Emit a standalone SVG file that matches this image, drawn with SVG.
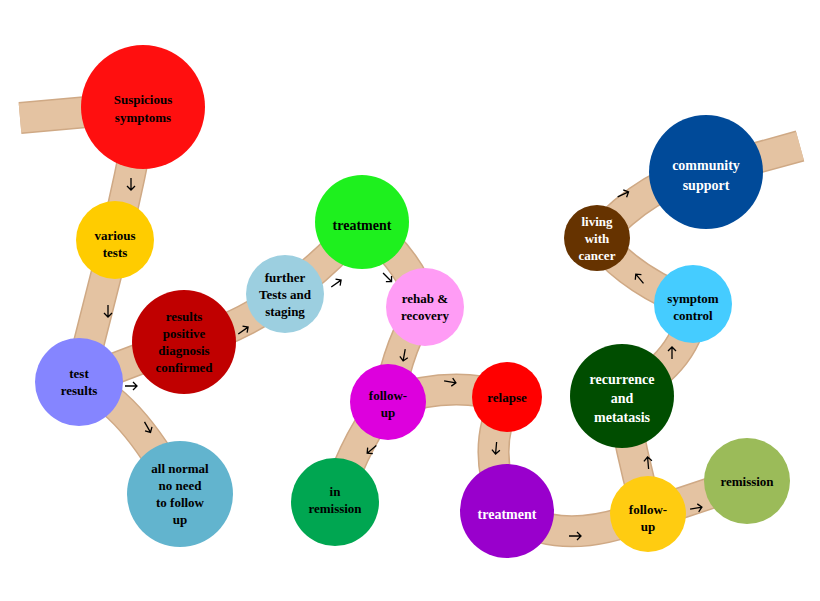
<svg xmlns="http://www.w3.org/2000/svg" width="820" height="601" viewBox="0 0 820 601">
<style>
.ro{fill:none;stroke:#cfa985;stroke-width:32;stroke-linejoin:round}
.ri{fill:none;stroke:#e4c3a2;stroke-width:29;stroke-linejoin:round}
.ar{fill:none;stroke:#000;stroke-width:1.3}
text{font-family:"Liberation Serif",serif;font-weight:bold;font-size:13px;text-anchor:middle}
.w{fill:#fff;font-size:14px}
</style>
<defs>
<path id="road" d="M20,118 L143,107 Q130,180 115,240 Q95,320 79,382 Q130,400 180,494 M79,382 L184,342 Q240,330 285,294 Q330,260 362,222 Q410,260 424,306 Q400,340 388,402 Q360,430 335,502 M388,402 Q450,380 507,397 Q480,450 507,511 Q560,550 648,514 L747,481 M648,514 Q630,450 622,396 Q690,360 693,304 Q630,280 597,238 Q650,180 706,172 L800,146"/>
<path id="a" d="M-7,0 L5,0 M1,-4 L5,0 L1,4"/>
</defs>
<g id="connectors">
<use href="#road" class="ro"/>
<use href="#road" class="ri"/>
<g class="ar">
<use href="#a" transform="translate(131,185) rotate(90)"/>
<use href="#a" transform="translate(108,312) rotate(90)"/>
<use href="#a" transform="translate(132,386)"/>
<use href="#a" transform="translate(148,428) rotate(60)"/>
<use href="#a" transform="translate(244,330) rotate(-35)"/>
<use href="#a" transform="translate(337,283) rotate(-35)"/>
<use href="#a" transform="translate(388,278) rotate(45)"/>
<use href="#a" transform="translate(404,356) rotate(100)"/>
<use href="#a" transform="translate(451,382) rotate(10)"/>
<use href="#a" transform="translate(371,450) rotate(140)"/>
<use href="#a" transform="translate(496,449) rotate(95)"/>
<use href="#a" transform="translate(576,536)"/>
<use href="#a" transform="translate(697,508) rotate(-10)"/>
<use href="#a" transform="translate(648,462) rotate(-95)"/>
<use href="#a" transform="translate(672,352) rotate(-90)"/>
<use href="#a" transform="translate(639,278) rotate(-130)"/>
<use href="#a" transform="translate(624,194) rotate(-25)"/>
</g>
</g>
<g id="n1"><circle cx="143" cy="107" r="62" fill="#ff0f0f"/><text x="143" y="104">Suspicious</text><text x="143" y="122">symptoms</text></g>
<g id="n2"><circle cx="115" cy="240" r="39" fill="#ffcc00"/><text x="115" y="240">various</text><text x="115" y="257">tests</text></g>
<g id="n3"><circle cx="79" cy="382" r="44" fill="#8585ff"/><text x="79" y="378">test</text><text x="79" y="395">results</text></g>
<g id="n4"><circle cx="184" cy="342" r="52" fill="#c00000"/><text x="184" y="321">results</text><text x="184" y="338">positive</text><text x="184" y="355">diagnosis</text><text x="184" y="372">confirmed</text></g>
<g id="n5"><circle cx="180" cy="494" r="53" fill="#62b4ce"/><text x="180" y="473">all normal</text><text x="180" y="490">no need</text><text x="180" y="507">to follow</text><text x="180" y="524">up</text></g>
<g id="n6"><circle cx="285" cy="294" r="39" fill="#9ccfe0"/><text x="285" y="282">further</text><text x="285" y="299">Tests and</text><text x="285" y="316">staging</text></g>
<g id="n7"><circle cx="362" cy="222" r="47" fill="#1ef01e"/><text x="362" y="230" style="font-size:14px">treatment</text></g>
<g id="n8"><circle cx="425" cy="307" r="39" fill="#ff9cf5"/><text x="425" y="303">rehab &amp;</text><text x="425" y="320">recovery</text></g>
<g id="n9"><circle cx="388" cy="402" r="38" fill="#dd00dd"/><text x="388" y="400">follow-</text><text x="388" y="417">up</text></g>
<g id="n10"><circle cx="335" cy="502" r="44" fill="#00a651"/><text x="335" y="496">in</text><text x="335" y="513">remission</text></g>
<g id="n11"><circle cx="507" cy="397" r="35" fill="#ff0000"/><text x="507" y="402">relapse</text></g>
<g id="n12"><circle cx="507" cy="511" r="47" fill="#9900cc"/><text class="w" x="507" y="519">treatment</text></g>
<g id="n13"><circle cx="648" cy="514" r="38" fill="#ffcc11"/><text x="648" y="514">follow-</text><text x="648" y="531">up</text></g>
<g id="n14"><circle cx="747" cy="481" r="43" fill="#9bbb59"/><text x="747" y="486">remission</text></g>
<g id="n15"><circle cx="622" cy="396" r="52" fill="#004d00"/><text class="w" x="622" y="384">recurrence</text><text class="w" x="622" y="403">and</text><text class="w" x="622" y="422">metatasis</text></g>
<g id="n16"><circle cx="693" cy="304" r="39" fill="#45ccff"/><text x="693" y="303">symptom</text><text x="693" y="320">control</text></g>
<g id="n17"><circle cx="597" cy="238" r="33" fill="#663300"/><text class="w" x="597" y="226" style="font-size:13px">living</text><text class="w" x="597" y="243" style="font-size:13px">with</text><text class="w" x="597" y="260" style="font-size:13px">cancer</text></g>
<g id="n18"><circle cx="706" cy="172" r="57" fill="#004a99"/><text class="w" x="706" y="170">community</text><text class="w" x="706" y="190">support</text></g>
</svg>
